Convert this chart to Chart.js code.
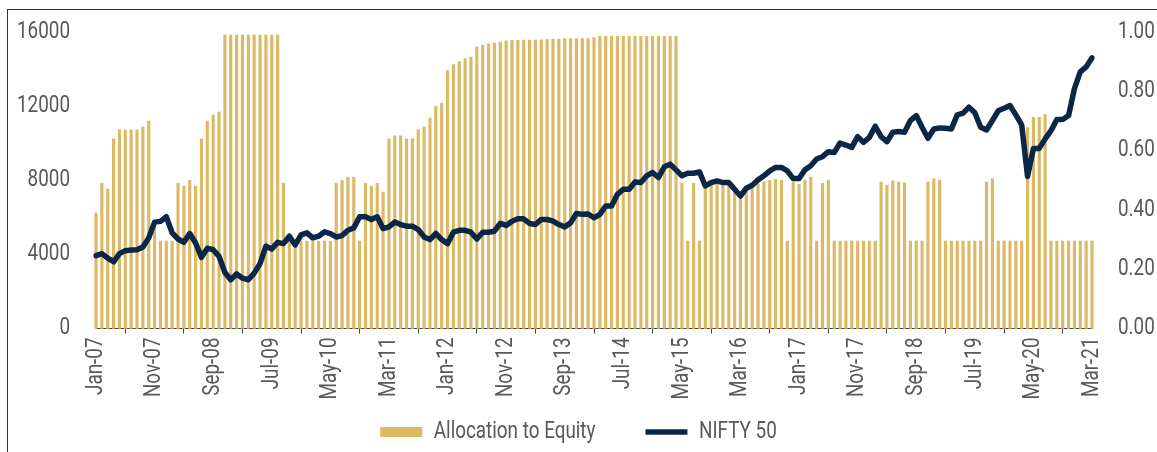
<!DOCTYPE html>
<html>
<head>
<meta charset="utf-8">
<script src="https://cdn.jsdelivr.net/npm/chart.js@4/dist/chart.umd.min.js"></script>
<style>
  html, body { margin: 0; padding: 0; background: #fff; }
  #wrap { position: relative; width: 1157px; height: 452px; overflow: hidden; }
  #frame { position: absolute; left: 7px; top: 9px; width: 1200px; height: 500px;
           border-top: 1.5px solid #25344f; border-left: 1.5px solid #25344f; }
  #box { position: absolute; left: 0; top: 0; width: 1157px; height: 452px; }
</style>
</head>
<body>
<div id="wrap">
  <div id="frame"></div>
  <div id="box"><canvas id="chart1"></canvas></div>
</div>
<script>
// months Jan-07 .. Mar-21
const monthNames = ['Jan', 'Feb', 'Mar', 'Apr', 'May', 'Jun', 'Jul', 'Aug', 'Sep', 'Oct', 'Nov', 'Dec'];
const months = [];
for (let y = 2007; y <= 2021; y++) {
  for (let m = 0; m < 12; m++) {
    if (y === 2021 && m > 2) break;
    months.push(monthNames[m] + '-' + String(y).slice(2));
  }
}

// allocation to equity (right axis, 0-1)
const allocation = [
  0.39, 0.49, 0.47, 0.64, 0.67, 0.67, 0.67, 0.67, 0.68, 0.70,
  0.36, 0.295, 0.295, 0.295, 0.49, 0.48, 0.50, 0.48, 0.64, 0.70,
  0.72, 0.73, 0.99, 0.99, 0.99, 0.99, 0.99, 0.99, 0.99, 0.99,
  0.99, 0.99, 0.49, 0.295, 0.295, 0.295, 0.295, 0.295, 0.295, 0.295,
  0.295, 0.49, 0.50, 0.51, 0.51, 0.295, 0.49, 0.48, 0.49, 0.46,
  0.64, 0.65, 0.65, 0.64, 0.64, 0.67, 0.68, 0.71, 0.75, 0.76,
  0.87, 0.89, 0.90, 0.91, 0.915, 0.95, 0.955, 0.96, 0.963, 0.966,
  0.97, 0.972, 0.972, 0.973, 0.973, 0.973, 0.974, 0.975, 0.976, 0.976,
  0.978, 0.978, 0.978, 0.978, 0.978, 0.981, 0.985, 0.985, 0.985, 0.985,
  0.985, 0.985, 0.985, 0.985, 0.985, 0.985, 0.985, 0.985, 0.985, 0.985,
  0.49, 0.295, 0.49, 0.295, 0.48, 0.49, 0.49, 0.49, 0.49, 0.47,
  0.45, 0.47, 0.477, 0.487, 0.495, 0.50, 0.503, 0.50, 0.295, 0.494,
  0.486, 0.50, 0.511, 0.295, 0.49, 0.50, 0.295, 0.295, 0.295, 0.295,
  0.295, 0.295, 0.295, 0.295, 0.494, 0.484, 0.498, 0.494, 0.491, 0.295,
  0.295, 0.295, 0.494, 0.505, 0.501, 0.295, 0.295, 0.295, 0.295, 0.295,
  0.295, 0.295, 0.494, 0.505, 0.295, 0.295, 0.295, 0.295, 0.295, 0.678,
  0.712, 0.712, 0.722, 0.295, 0.295, 0.295, 0.295, 0.295, 0.295, 0.295,
  0.295
];

// NIFTY 50 index level (left axis)
const nifty = [
  3930, 4040, 3800, 3600, 4040, 4200, 4235, 4250, 4400, 4890,
  5740, 5780, 6030, 5160, 4830, 4650, 5125, 4615, 3840, 4330,
  4250, 3890, 3025, 2630, 2950, 2715, 2630, 2990, 3500, 4440,
  4290, 4650, 4580, 4980, 4510, 5050, 5160, 4890, 4980, 5215,
  5125, 4940, 5015, 5300, 5430, 6030, 6030, 5885, 6030, 5395,
  5485, 5740, 5610, 5520, 5520, 5340, 4940, 4800, 5125, 4800,
  4580, 5195, 5300, 5300, 5195, 4830, 5195, 5195, 5250, 5670,
  5560, 5790, 5920, 5920, 5670, 5610, 5885, 5885, 5790, 5610,
  5485, 5700, 6210, 6160, 6180, 5975, 6160, 6610, 6610, 7240,
  7515, 7515, 7910, 7875, 8240, 8420, 8150, 8725, 8870, 8560,
  8240, 8380, 8380, 8455, 7690, 7875, 7965, 7875, 7875, 7515,
  7150, 7570, 7730, 8020, 8240, 8510, 8690, 8690, 8510, 8090,
  8090, 8560, 8780, 9145, 9270, 9540, 9500, 10010, 9900, 9775,
  10355, 10045, 10315, 10915, 10355, 10080, 10590, 10625, 10590, 11220,
  11490, 10860, 10265, 10770, 10825, 10800, 10770, 11530, 11620, 11945,
  11640, 10860, 10715, 11220, 11750, 11890, 12035, 11530, 10990, 8200,
  9720, 9720, 10230, 10680, 11275, 11275, 11490, 12945, 13845, 14115,
  14605
];

const leftTicks = [0, 4000, 8000, 12000, 16000];
const rightTicks = [0, 0.2, 0.4, 0.6, 0.8, 1.0];

const FS = 23;
const FONT = { family: 'Roboto, sans-serif', size: FS };
const GREY = '#595959';
const LEG_PAD = 50;
const SQUEEZE = 0.82; // no condensed font installed, so narrow the text by hand

// draw and measure all chart text horizontally squeezed (condensed look)
const condense = {
  id: 'condense',
  beforeInit(chart) {
    const ctx = chart.ctx;
    const fill = ctx.fillText.bind(ctx);
    const measure = ctx.measureText.bind(ctx);
    ctx.fillText = (text, x, y) => {
      ctx.save();
      ctx.translate(x, y);
      ctx.scale(SQUEEZE, 1);
      fill(text, 0, 0);
      ctx.restore();
    };
    ctx.measureText = (text) => {
      const m = measure(text);
      return {
        width: m.width * SQUEEZE,
        actualBoundingBoxAscent: m.actualBoundingBoxAscent,
        actualBoundingBoxDescent: m.actualBoundingBoxDescent
      };
    };
  }
};

// x tick labels hang below the axis box, so stop them from being clipped
const unclipX = {
  id: 'unclipX',
  afterLayout(chart) { chart.scales.x.bottom = chart.height; }
};

// y axes: fixed width, and no extra top/bottom padding from the label gap
function fitY(width) {
  return (scale) => {
    scale.width = width;
    scale.paddingTop = 0;
    scale.paddingBottom = 0;
  };
}

const data = {
  labels: months,
  datasets: [{
    type: 'bar',
    label: 'Allocation to Equity',
    data: allocation,
    yAxisID: 'y1',
    backgroundColor: '#dcb965',
    borderWidth: 0,
    barThickness: 2.5,
    pointStyle: 'rect',
    clip: false,
    order: 2
  }, {
    type: 'line',
    label: 'NIFTY 50',
    data: nifty,
    yAxisID: 'y',
    borderColor: '#0b2748',
    backgroundColor: '#0b2748',
    borderWidth: 5.5,
    borderJoinStyle: 'round',
    borderCapStyle: 'round',
    pointRadius: 0,
    pointStyle: 'line',
    tension: 0,
    order: 1
  }]
};

const config = {
  data: data,
  options: {
    responsive: true,
    maintainAspectRatio: false,
    animation: false,
    layout: { padding: { top: 32, bottom: 10 - FS / 2, left: 0, right: 0 } },
    plugins: {
      tooltip: { enabled: false },
      legend: {
        position: 'bottom',
        labels: {
          usePointStyle: true,
          pointStyleWidth: 42,
          boxHeight: 10,
          padding: LEG_PAD,
          color: GREY,
          font: FONT,
          sort: (a, b) => a.datasetIndex - b.datasetIndex
        }
      }
    },
    scales: {
      x: {
        offset: false,
        grid: { display: true, drawOnChartArea: false, drawTicks: true, tickLength: 5, color: '#404040' },
        border: { display: true, color: '#404040', width: 1 },
        ticks: {
          autoSkip: false,
          minRotation: 90,
          maxRotation: 90,
          padding: 4,
          color: GREY,
          font: FONT,
          callback: (v, i) => (i % 10 === 0 ? months[i] : null)
        },
        afterFit: (scale) => { scale.height = 103.5 - LEG_PAD - FS / 2; }
      },
      y: {
        position: 'left',
        min: 0,
        max: 16000,
        grid: { display: false, drawTicks: false },
        border: { display: false },
        afterBuildTicks: (scale) => { scale.ticks = leftTicks.map(v => ({ value: v })); },
        ticks: {
          padding: 26,
          color: GREY,
          font: FONT,
          callback: (v) => String(v)
        },
        afterFit: fitY(96)
      },
      y1: {
        position: 'right',
        min: 0,
        max: 1,
        grid: { display: false, drawTicks: false },
        border: { display: false },
        afterBuildTicks: (scale) => { scale.ticks = rightTicks.map(v => ({ value: v })); },
        ticks: {
          padding: 26,
          color: GREY,
          font: FONT,
          callback: (v) => v.toFixed(2)
        },
        afterFit: fitY(65)
      }
    }
  },
  plugins: [condense, unclipX]
};

const myChart = new Chart(
  document.getElementById('chart1'),
  config
);
</script>
</body>
</html>
